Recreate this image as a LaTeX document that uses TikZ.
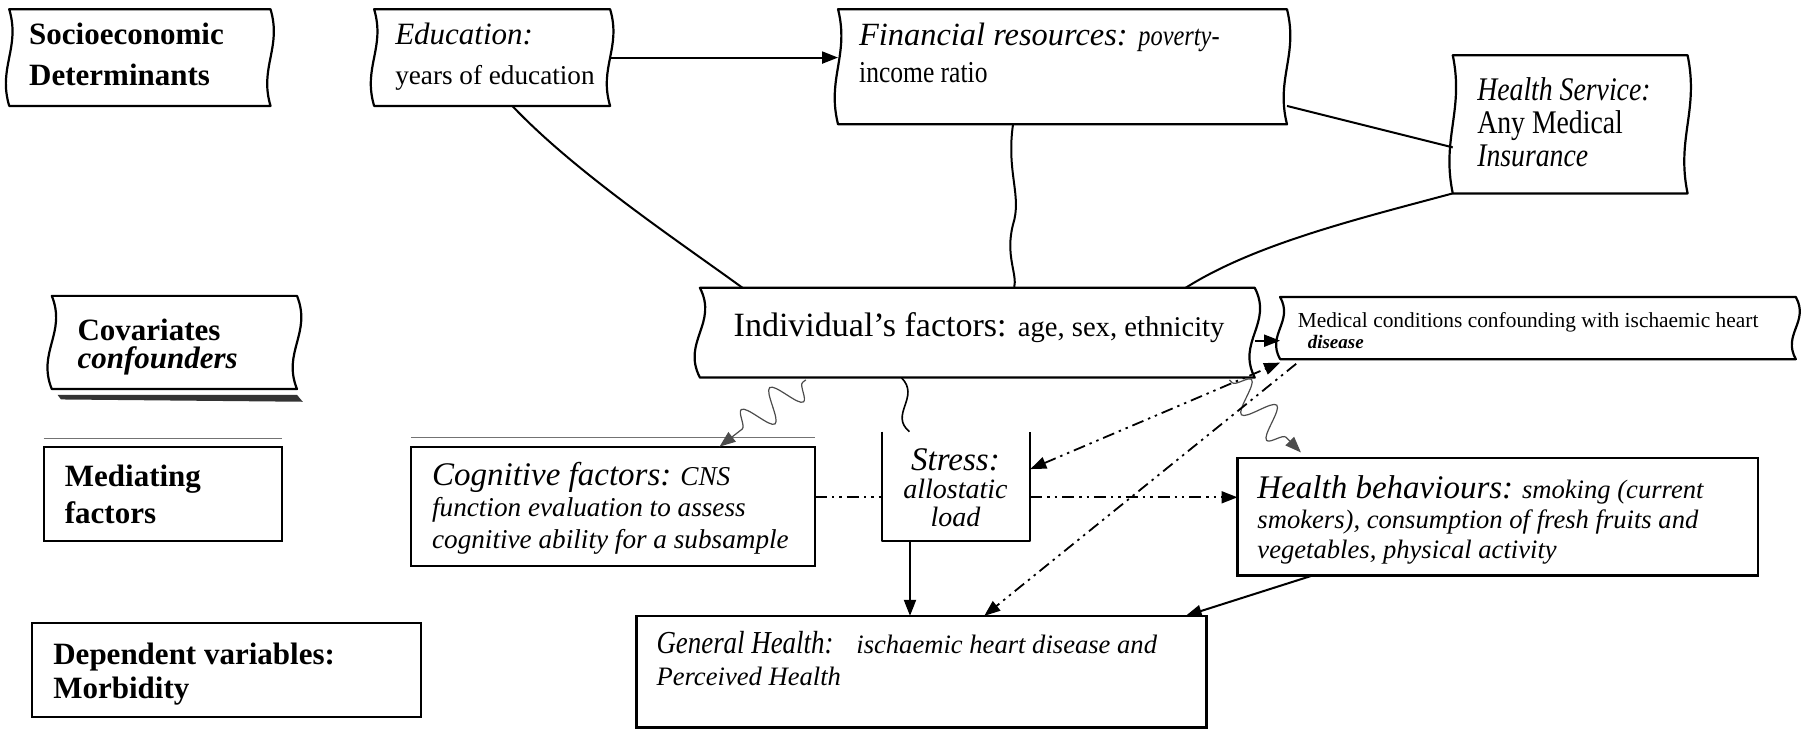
\documentclass[tikz,border=0pt]{standalone}
\usepackage{fontspec}
\setmainfont{Liberation Serif}
\newfontfamily\narrowserif[FakeStretch=0.84]{Liberation Serif}
\usetikzlibrary{arrows.meta,calc,fit,decorations.pathmorphing}

\newcommand{\txtsize}[2]{\fontsize{#1}{#2}\selectfont}

% box outline whose left and right sides are S-shaped
\newcommand{\waveframe}[2]{%
  \draw[edge] (#1.north west) -- (#1.north east)
    .. controls ($(#1.north east)!0.4!(#1.south east)+(#2,0)$) and ($(#1.north east)!0.6!(#1.south east)+(-#2,0)$) .. (#1.south east)
    -- (#1.south west)
    .. controls ($(#1.south west)!0.4!(#1.north west)+(-#2,0)$) and ($(#1.south west)!0.6!(#1.north west)+(#2,0)$) .. (#1.north west) -- cycle;}

\tikzset{
  area/.style={inner sep=0pt, outer sep=0pt},
  flat/.style={area, draw, line width=1.1pt},
  txt/.style={anchor=north west, inner sep=0pt, align=left},
  edge/.style={line width=1.1pt, line join=round},
  link/.style={line width=1pt},
  tip/.style={-{Triangle[length=8pt,width=6pt]}},
  twotip/.style={{Triangle[length=8pt,width=6pt]}-{Triangle[length=8pt,width=6pt]}},
  dashdotdot/.style={line width=0.9pt, dash pattern=on 6pt off 2.5pt on 1.2pt off 2.5pt on 1.2pt off 2.5pt},
  faint/.style={line width=0.6pt, black!55},
  coil/.style={line width=0.6pt, black!70, decorate, decoration={snake, segment length=18pt, amplitude=8pt, pre length=2pt, post length=7pt}},
}

\begin{document}
\begin{tikzpicture}[x=0.5755pt, y=-0.5755pt]
\useasboundingbox (0,0) rectangle (1568,635);

% ---------- socioeconomic determinants ----------
\node[area, fit={(8,8) (235,92)}] (soc) {};
\waveframe{soc}{10}
\node[txt, font={\bfseries\txtsize{15.5}{20.1}}] (socT) at (25,20) {Socioeconomic\\Determinants};

\node[area, fit={(325,8) (530,92)}] (edu) {};
\waveframe{edu}{10}
\node[txt, font={\txtsize{15.5}{19.6}}] (eduT) at (343,20) {\textit{Education:}\\{\txtsize{13.6}{19.6}years of education}};

\node[area, fit={(728,8) (1118,108)}] (fin) {};
\waveframe{fin}{10}
\node[txt, font={\txtsize{16.2}{18.4}}] (finT) at (746,20) {\textit{Financial resources:} {\narrowserif\itshape\txtsize{14.5}{18.4}poverty-}\\{\narrowserif\txtsize{15.2}{18.4}income ratio}};

\node[area, fit={(1262,48) (1466,168)}] (hs) {};
\waveframe{hs}{10}
\node[txt, font={\narrowserif\txtsize{16.5}{16.6}}] (hsT) at (1283,67) {\textit{Health Service:}\\Any Medical\\\textit{Insurance}};

% ---------- covariates ----------
\node[area, fit={(45,257) (258,338)}] (cov) {};
\waveframe{cov}{13}
\fill[black!80] ($(cov.south west)+(5,5)$) -- ($(cov.south east)+(0,5)$) -- ($(cov.south east)+(5,11)$) -- ($(cov.south west)+(8,9)$) -- cycle;
\node[txt, font={\bfseries\txtsize{15.5}{13.8}}] (covT) at (67,277) {Covariates\\\textit{confounders}};

\node[area, fit={(608,250) (1090,328)}] (ind) {};
\waveframe{ind}{16}
\node[anchor=base west, inner sep=0pt, font={\txtsize{17}{20}}] (indT) at (637,292) {Individual's factors: {\txtsize{14.3}{20}age, sex, ethnicity}};

\node[area, fit={(1112,258) (1560,312)}] (med) {};
\waveframe{med}{12}
\node[txt, font={\txtsize{10.7}{10.4}}] (medT) at (1127,271) {Medical conditions confounding with ischaemic heart\\\hspace*{5pt}{\bfseries\itshape\txtsize{9.5}{10.4}disease}};

% ---------- mediating factors ----------
\node[flat, fit={(38,388) (245,470)}] (mfac) {};
\draw[faint] ([yshift=4pt]mfac.north west) -- ([yshift=4pt]mfac.north east);
\node[txt, font={\bfseries\txtsize{15.5}{18.5}}] (mfacT) at (56,404) {Mediating\\factors};

\node[flat, fit={(357,388) (708,492)}] (cog) {};
\draw[faint] ([yshift=4.5pt]cog.north west) -- ([yshift=4.5pt]cog.north east);
\node[txt, font={\itshape\txtsize{13.6}{15.8}}] (cogT) at (375,401) {{\txtsize{16.5}{15.8}Cognitive factors:} CNS\\function evaluation to assess\\cognitive ability for a subsample};

\node[area, fit={(766,375) (895,470)}] (str) {};
\draw[edge] (str.north west) -- (str.south west) -- (str.south east) -- (str.north east);
\node[anchor=north, inner sep=0pt, align=center, font={\itshape\txtsize{14}{14.1}}] (strT) at (830,389) {{\txtsize{16.5}{14.1}Stress:}\\allostatic\\load};

\node[flat, fit={(1075,398) (1527,500)}] (hb) {};
\node[txt, font={\itshape\txtsize{13.3}{15}}] (hbT) at (1092,413) {{\txtsize{16.5}{15}Health behaviours:} smoking (current\\smokers), consumption of fresh fruits and\\vegetables, physical activity};

% ---------- dependent variables ----------
\node[flat, fit={(28,541) (366,623)}] (dep) {};
\node[txt, font={\bfseries\txtsize{15.5}{17}}] (depT) at (46,558) {Dependent variables:\\Morbidity};

\node[flat, fit={(553,535) (1048,632)}] (gh) {};
\node[txt, font={\itshape\txtsize{13.3}{16.1}}] (ghT) at (570,548) {{\narrowserif\txtsize{16}{16.1}General Health:}\hspace{7pt} ischaemic heart disease and\\Perceived Health};

% ---------- connectors ----------
\draw[link,tip] (edu.east) -- (edu.east -| fin.west);
\draw[link] ($(fin.south east)+(0,-16)$) -- ($(hs.west)+(0,20)$);
\draw[link] ($(edu.south west)+(120,0)$) .. controls (500,150) and (590,210) .. ($(ind.north west)+(37,0)$);
\draw[link] ($(fin.south west)+(152,0)$) .. controls (874,150) and (888,170) .. (880,195) .. controls (873,222) and (884,238) .. ($(ind.north west)+(273,0)$);
\draw[link] (hs.south west) .. controls (1180,190) and (1090,212) .. ($(ind.north east)+(-60,0)$);

\draw[link,tip] ([yshift=-4pt]ind.east) -- ([yshift=-4pt]ind.east -| med.west);

\draw[coil,tip] ($(ind.south west)+(92,2)$) -- ($(cog.north west)+(268,0)$);
\draw[link, line width=0.8pt] ($(ind.south west)+(175,0)$) .. controls (800,345) and (772,360) .. ($(str.north west)+(24,0)$);
\draw[coil,tip,shorten >=4pt] ($(ind.south east)+(-22,2)$) -- ($(hb.north west)+(60,0)$);

\draw[dashdotdot,twotip] ($(str.east)+(0,-15)$) -- ($(med.south west)+(0,3)$);
\draw[dashdotdot,tip] ($(med.south west)+(14,4)$) -- ($(gh.north west)+(302,0)$);
\draw[dashdotdot] (cog.east |- 0,432) -- (str.west |- 0,432);
\draw[dashdotdot,tip] (str.east |- 0,432) -- (hb.west |- 0,432);

\coordinate (sd) at ($(str.south)+(-40,0)$);
\draw[link,tip] (sd) -- (sd |- gh.north);
\draw[link,tip] ($(hb.south west)+(65,0)$) -- ($(gh.north east)+(-18,0)$);
\end{tikzpicture}
\end{document}
